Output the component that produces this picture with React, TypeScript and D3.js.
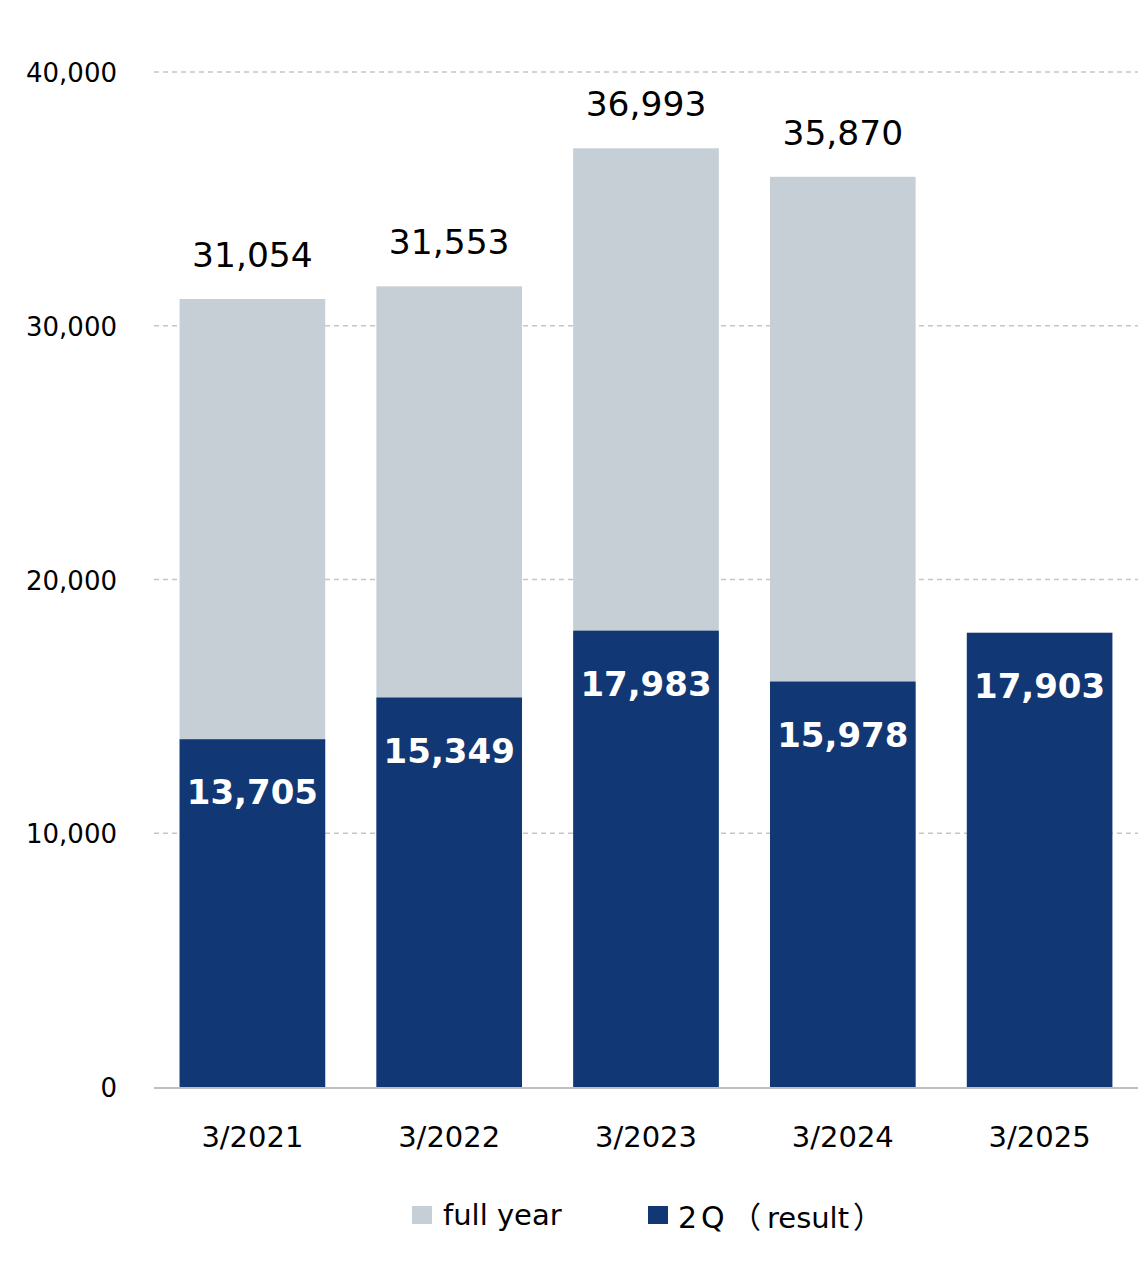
import React from "react";
import * as d3 from "d3";

const categories = ["3/2021", "3/2022", "3/2023", "3/2024", "3/2025"];
const fullYear: (number | null)[] = [31054, 31553, 36993, 35870, null];
const secondQ = [13705, 15349, 17983, 15978, 17903];
const yTicks = [0, 10000, 20000, 30000, 40000];

const W = 1146;
const H = 1262;
const left = 154;
const right = 1138;
const top = 72;
const bottom = 1087;
const FONT = "'DejaVu Sans', Verdana, sans-serif";
const CJK = "'Noto Sans CJK JP'";
const GRAY = "#c5cfd5";
const NAVY = "#113774";

export default function App() {
  const x = d3.scaleBand<string>().domain(categories).range([left, right]).paddingInner(0.26).paddingOuter(0.13);
  const y = d3.scaleLinear().domain([0, 40000]).range([bottom, top]);
  const fmt = d3.format(",");
  const bw = x.bandwidth();

  return (
    <svg width={W} height={H} style={{ position: "absolute", left: 0, top: 0 }} fontFamily={FONT}>
      <rect x={0} y={0} width={W} height={H} fill="#fff" />
      {yTicks.map((t) => (
        <g key={t}>
          {t > 0 && (
            <line x1={left} x2={right} y1={y(t)} y2={y(t)} stroke="#c6c6c6" strokeWidth={1.5} strokeDasharray="5,4" />
          )}
          <text x={117} y={y(t) + 10} textAnchor="end" fontSize={26} fill="#000">
            {fmt(t)}
          </text>
        </g>
      ))}
      {categories.map((c, i) => {
        const fy = fullYear[i];
        const cx = (x(c) as number) + bw / 2;
        return (
          <g key={c}>
            {fy !== null && (
              <rect x={x(c)} y={y(fy)} width={bw} height={bottom - y(fy)} fill={GRAY} />
            )}
            <rect x={x(c)} y={y(secondQ[i])} width={bw} height={bottom - y(secondQ[i])} fill={NAVY} />
            {fy !== null && (
              <text x={cx} y={y(fy) - 32} textAnchor="middle" fontSize={34.5} fill="#000">
                {fmt(fy)}
              </text>
            )}
            <text x={cx} y={y(secondQ[i]) + 65} textAnchor="middle" fontSize={34} fontWeight="bold" fill="#fff">
              {fmt(secondQ[i])}
            </text>
            <text x={cx} y={1147} textAnchor="middle" fontSize={29} fill="#000">
              {c}
            </text>
          </g>
        );
      })}
      <line x1={left} x2={right} y1={bottom + 1} y2={bottom + 1} stroke="#bfbfbf" strokeWidth={2} />
      <rect x={412} y={1206} width={20} height={18} fill={GRAY} />
      <text x={443} y={1225} fontSize={29} fill="#000">full year</text>
      <rect x={648} y={1206} width={20} height={18} fill={NAVY} />
      <text y={1228} fontSize={30} fill="#000">
        <tspan x={678}>2</tspan>
        <tspan x={701}>Q</tspan>
        <tspan x={731} fontFamily={CJK}>（</tspan>
        <tspan x={767} fontSize={29}>result</tspan>
        <tspan x={853} fontFamily={CJK}>）</tspan>
      </text>
    </svg>
  );
}
